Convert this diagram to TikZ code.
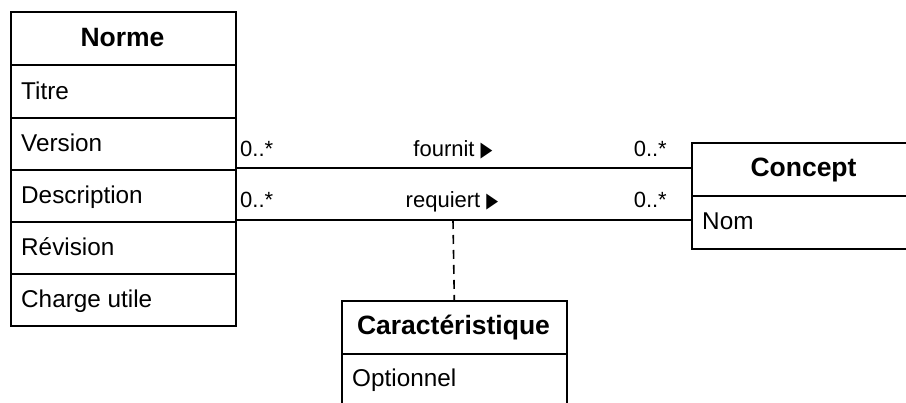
\documentclass[tikz,border=0pt]{standalone}
\usepackage{fontspec}
\setmainfont{Liberation Sans}
\newfontfamily\symfont{DejaVu Sans}
\newcommand{\tri}{{\symfont\scalebox{0.7}[0.95]{▶}}}
\begin{document}
\begin{tikzpicture}[x=1pt,y=-1pt,
  box/.style={draw, line width=1.6pt, minimum width=225pt, anchor=north west, inner sep=0pt},
  sep/.style={line width=1.6pt},
  assoc/.style={line width=1.6pt},
  hdr/.style={font=\fontsize{26.5}{30}\selectfont\bfseries, anchor=base, inner sep=0pt},
  attr/.style={font=\fontsize{24.3}{28}\selectfont, anchor=base west, inner sep=0pt},
  lbl/.style={font=\fontsize{22}{26}\selectfont, inner sep=0pt, anchor=base}]
\clip (0,0) rectangle (906,403);
\fill[white] (0,0) rectangle (906,403);

% Norme
\node[box, minimum height=313.5pt] (norme) at (10,11.5) {};
\foreach \yy in {65,118,170,222,274}
  \draw[sep] (norme.west |- 0,\yy) -- (norme.east |- 0,\yy);
\node[hdr] (normeT) at (122.5,47) {Norme};
\node[attr] (a1) at (21,99.3) {Titre};
\node[attr] (a2) at (21,151.5) {Version};
\node[attr] (a3) at (21,203.5) {Description};
\node[attr] (a4) at (21,255.5) {Révision};
\node[attr] (a5) at (21,307.3) {Charge utile};

% Concept
\node[box, minimum height=106pt] (concept) at (691,142) {};
\draw[sep] (concept.west |- 0,196) -- (concept.east |- 0,196);
\node[hdr] (conceptT) at (803.5,177) {Concept};
\node[attr] (c1) at (702,229.3) {Nom};

% Caracteristique
\node[box, minimum height=120pt] (carac) at (341,300) {};
\draw[sep] (carac.west |- 0,354) -- (carac.east |- 0,354);
\node[hdr] (caracT) at (453.5,335) {Caractéristique};
\node[attr] (k1) at (352,386.7) {Optionnel};

% associations
\draw[assoc] (norme.east |- 0,168) -- (concept.west |- 0,168);
\draw[assoc] (norme.east |- 0,220) -- (concept.west |- 0,220);
\coordinate (mid) at (453,220);
\draw[assoc, dash pattern=on 9pt off 6pt] (mid) -- (carac.north);

% labels
\node[lbl, anchor=base west] (m1) at (240,156.7) {0..*};
\node[lbl, anchor=base east] (m2) at (667,156.7) {0..*};
\node[lbl] (f) at (453,156.7) {fournit \tri};
\node[lbl, anchor=base west] (m3) at (240,208) {0..*};
\node[lbl, anchor=base east] (m4) at (667,208) {0..*};
\node[lbl] (r) at (452,208) {requiert \tri};
\end{tikzpicture}
\end{document}
